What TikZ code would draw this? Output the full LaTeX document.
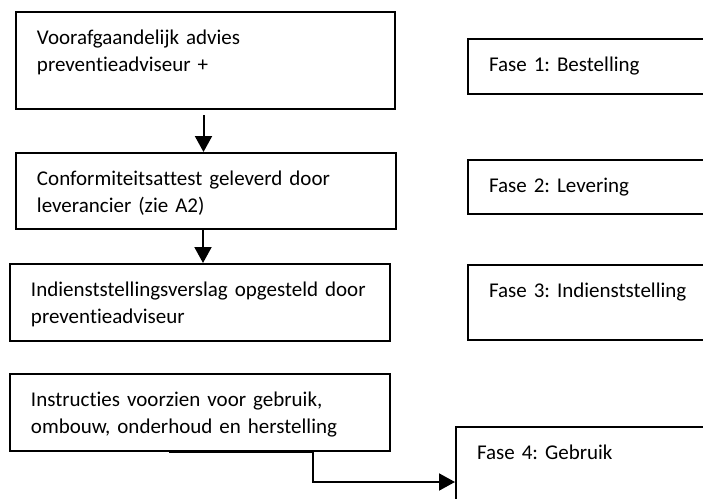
\documentclass[tikz,border=0pt]{standalone}
\usepackage{fontspec}
\setmainfont{Carlito}[Ligatures=NoCommon]
\usetikzlibrary{calc,          % .
                arrows.meta}   % .
\frenchspacing

\begin{document}
\begin{tikzpicture}[x=0.5pt,y=-0.5pt
                    ]
                % define styles
\tikzset{stage/.style={draw=black,
                       line width=1pt,
                       anchor=north west,
                       align=left,
                       inner xsep=10.5pt,
                       inner ysep=0pt,
                       text height=16pt,
                       font=\fontsize{10.5pt}{13.5pt}\selectfont,
                       },
         fase/.style={stage,
                       text width=129pt,
                       },
         flow/.style={draw=black,
                       line width=1pt,
                       -{Triangle[width=8.5pt,length=8pt]},
                       }
}

% frame
\useasboundingbox (0,0) rectangle (703,499);
\clip (0,0) rectangle (703,499);

% steps
\node[stage, text width=168.5pt, text depth=32.5pt] (advies)  at (15,11)  {Voorafgaandelijk advies\\preventieadviseur +};
\node[stage, text width=169pt,   text depth=22pt]   (attest)  at (15,152) {Conformiteitsattest geleverd door\\leverancier (zie A2)};
\node[stage, text width=169pt,   text depth=22.5pt] (verslag) at (9,263)  {\mbox{Indienststellingsverslag opgesteld door}\\preventieadviseur};
\node[stage, text width=169pt,   text depth=22.5pt] (instr)   at (9,373)  {Instructies voorzien voor gebruik,\\ombouw, onderhoud en herstelling};

% phases
\node[fase, text depth=11.5pt] (fase1) at (467,38)  {Fase 1: Bestelling};
\node[fase, text depth=11pt]   (fase2) at (467,159) {Fase 2: Levering};
\node[fase, text depth=21.5pt] (fase3) at (467,264) {Fase 3: Indienststelling};
\node[fase, text depth=34pt]   (fase4) at (455,426) {Fase 4: Gebruik};

% connectors
\coordinate (a1) at ($(advies.south)+(-2,5)$);
\coordinate (a2) at (a1 |- attest.north);
\coordinate (b1) at ($(attest.south)+(-3,0)$);
\coordinate (b2) at (b1 |- verslag.north);
\draw[flow] (a1) -- (a2);
\draw[flow] (b1) -- (b2);

\coordinate (out)  at ($(instr.south west)!0.418!(instr.south east)$);
\coordinate (bend) at ($(instr.south west)!0.797!(instr.south east)$);
\coordinate (in)   at ($(fase4.north west)+(0,56)$);
\draw[flow] (out) -- (bend) -- (bend |- in) -- (in);

\end{tikzpicture}
\end{document}
